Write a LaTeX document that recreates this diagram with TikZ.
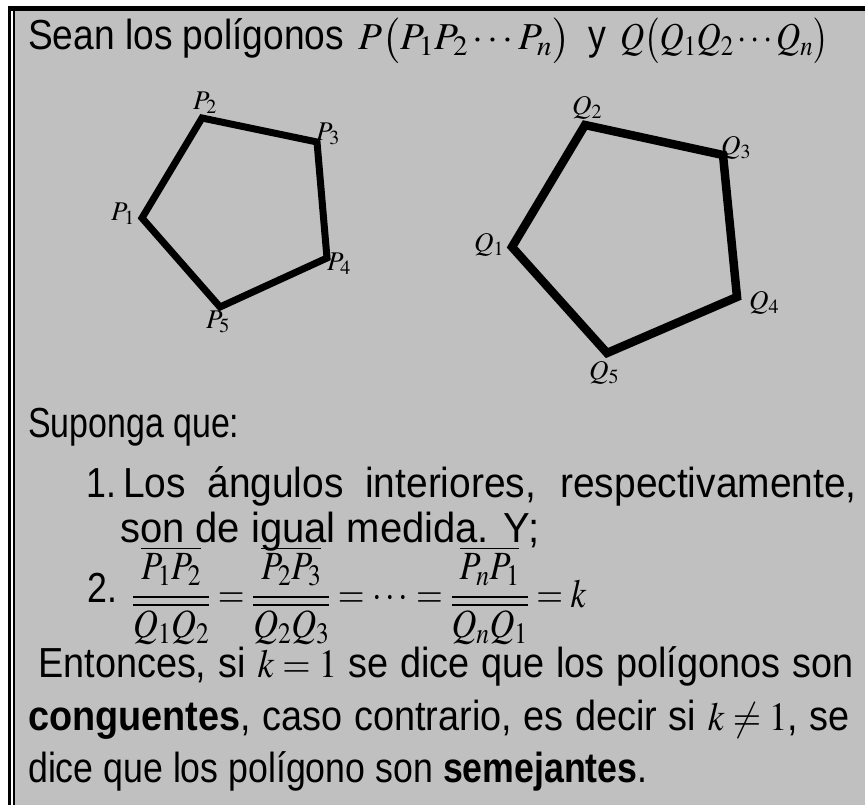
\documentclass[tikz,border=0pt]{standalone}
\usepackage{graphicx}
\usepackage{mathptmx}
\usepackage[no-math]{fontspec}
\setmainfont[FakeStretch=0.85]{Liberation Sans}
\definecolor{fondo}{RGB}{192,192,192}
\newcommand{\mates}[2][0.86]{\scalebox{#1}[1]{$\displaystyle #2$}}
\newcommand{\encab}[2]{{\fontsize{38}{46}\selectfont\mates[#1]{#2}}}
\newcommand{\ancho}[2]{\scalebox{#1}[1]{#2}}
\tikzset{
  txt/.style={anchor=base west,inner sep=0pt,font=\fontsize{42}{50}\selectfont},
  lbl/.style={inner sep=0pt,font=\fontsize{27}{32}\selectfont},
  poli/.style={line width=7pt,line join=miter}
}
\begin{document}
\begin{tikzpicture}[x=1pt,y=-1pt]
\useasboundingbox (0,0) rectangle (865,805);
% fondo y marco
\fill[fondo] (15,11) rectangle (865,805);
\fill (8,6) rectangle (865,11);
\fill (8,6) rectangle (11,805);
\fill (13,11) rectangle (15,805);

% encabezado
\node[txt] (sean) at (28,50) {\ancho{1.04}{Sean los polígonos}};
\node[txt] (pP) at (358,50) {\encab{1.03}{P\bigl(P_1P_2\cdots P_n\bigr)}};
\node[txt] (yy) at (588,50) {y};
\node[txt] (qQ) at (620,50) {\encab{0.88}{Q\bigl(Q_1Q_2\cdots Q_n\bigr)}};

% poligono P
\coordinate (p1) at (142,218);
\coordinate (p2) at (202,118);
\coordinate (p3) at (317,142);
\coordinate (p4) at (327,258);
\coordinate (p5) at (220,307);
\draw[poli] (p1)--(p2)--(p3)--(p4)--(p5)--cycle;
\node[lbl] (lp1) at (123,214) {$P_1$};
\node[lbl] (lp2) at (205,103) {$P_2$};
\node[lbl] (lp3) at (328,134) {$P_3$};
\node[lbl] (lp4) at (339,264) {$P_4$};
\node[lbl] (lp5) at (218,322) {$P_5$};

% poligono Q
\coordinate (q1) at (512,247);
\coordinate (q2) at (585,125);
\coordinate (q3) at (723,155);
\coordinate (q4) at (737,297);
\coordinate (q5) at (607,353);
\draw[poli,line width=8.5pt] (q1)--(q2)--(q3)--(q4)--(q5)--cycle;
\node[lbl] (lq1) at (489,245) {$Q_1$};
\node[lbl] (lq2) at (587,108) {$Q_2$};
\node[lbl] (lq3) at (736,148) {$Q_3$};
\node[lbl] (lq4) at (764,303) {$Q_4$};
\node[lbl] (lq5) at (604,373) {$Q_5$};

% texto
\node[txt] (sup) at (28,437) {\ancho{0.95}{Suponga que:}};
\node[txt] (uno) at (86,497) {1.};
\node[txt] (los) at (123,497) {\ancho{1.09}{\makebox[673pt][s]{Los ángulos interiores, respectivamente,}}};
\node[txt] (son) at (120,542) {\ancho{1.12}{son de igual medida. Y;}};
\node[txt] (dos) at (87,602) {2.};
\node[txt,font=\fontsize{40}{48}\selectfont] (frac) at (132,607) {\mates{\frac{\overline{P_1P_2}}{\overline{Q_1Q_2}}=\frac{\overline{P_2P_3}}{\overline{Q_2Q_3}}=\cdots=\frac{\overline{P_nP_1}}{\overline{Q_nQ_1}}=k}};
\node[txt] (ent) at (38,677) {\ancho{1.06}{\makebox[769pt][s]{Entonces, si {\fontsize{40}{48}\selectfont\mates{k=1}} se dice que los polígonos son}}};
\node[txt] (con) at (28,730) {\ancho{1.06}{\makebox[775pt][s]{\textbf{conguentes}, caso contrario, es decir si {\fontsize{40}{48}\selectfont\mates{k\neq1}}, se}}};
\node[txt] (dic) at (28,782) {dice que los polígono son \textbf{semejantes}.};
\end{tikzpicture}
\end{document}
